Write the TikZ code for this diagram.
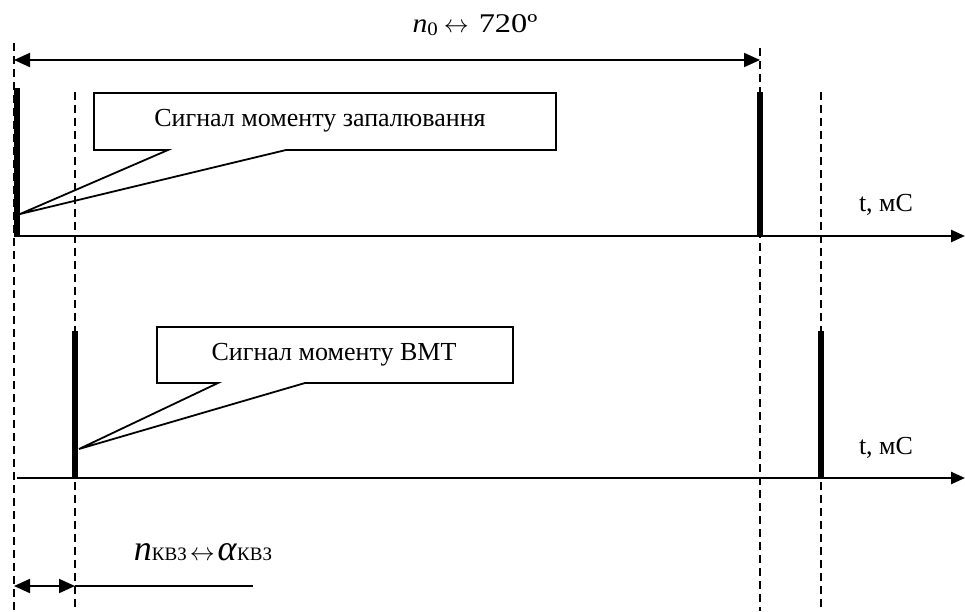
\documentclass[tikz,border=0pt]{standalone}
\usepackage{fontspec}
\setmainfont{Liberation Serif}
\usetikzlibrary{arrows.meta}
\begin{document}
\begin{tikzpicture}[x=1pt,y=-1pt,
  guide/.style={line width=1.5pt, dash pattern=on 8pt off 5pt},
  axisline/.style={line width=2.4pt, -{Triangle[length=14pt,width=12pt]}},
  dimline/.style={line width=2pt, {Triangle[length=16pt,width=14pt]}-{Triangle[length=16pt,width=14pt]}},
  pulse/.style={line width=6pt},
  callout/.style={line width=1.8pt, line join=miter},
  lbl/.style={font=\fontsize{26}{30}\selectfont, inner sep=0pt}]
\useasboundingbox (0,0) rectangle (965,611);
% coordinates
\coordinate (gA) at (14,43);  \coordinate (gAb) at (14,611);
\coordinate (gB) at (75,92);  \coordinate (gBb) at (75,611);
\coordinate (gC) at (760,48); \coordinate (gCb) at (760,611);
\coordinate (gD) at (821,92); \coordinate (gDb) at (821,611);
% guides
\draw[guide] (gA) -- (gAb);
\draw[guide] (gB) -- (gBb);
\draw[guide] (gC) -- (gCb);
\draw[guide] (gD) -- (gDb);
% top dimension
\coordinate (dL) at (14,60); \coordinate (dR) at (760,60);
\draw[dimline] (dL) -- (dR);
\node[lbl, font=\fontsize{27}{30}\selectfont] (n0) at (475,25) {\scalebox{1.1}[1]{\textit{n}\raisebox{-3pt}{\fontsize{19}{20}\selectfont 0}}\hspace{6pt}$\leftrightarrow$\hspace{10pt}\scalebox{1.2}[1]{720º}};
% axes
\coordinate (a1s) at (14,236); \coordinate (a1e) at (965,236);
\coordinate (a2s) at (17,478); \coordinate (a2e) at (965,478);
\draw[axisline] (a1s) -- (a1e);
\draw[axisline] (a2s) -- (a2e);
\node[lbl] (t1) at (886,205) {t, мС};
\node[lbl] (t2) at (886,448) {t, мС};
% pulses
\coordinate (p1t) at (16.5,88);  \coordinate (p1b) at (16.5,237);
\coordinate (p2t) at (760,92);   \coordinate (p2b) at (760,237);
\coordinate (p3t) at (75,331);   \coordinate (p3b) at (75,479);
\coordinate (p4t) at (821,331);  \coordinate (p4b) at (821,479);
\draw[pulse] (p1t) -- (p1b);
\draw[pulse] (p2t) -- (p2b);
\draw[pulse] (p3t) -- (p3b);
\draw[pulse] (p4t) -- (p4b);
% callout 1
\coordinate (k1) at (20,214);
\draw[callout] (94,93) -- (556,93) -- (556,150) -- (286,150) -- (k1) -- (168,150) -- (94,150) -- cycle;
\node[lbl] (c1) at (320,121) {Сигнал моменту запалювання};
% callout 2
\coordinate (k2) at (79,449);
\draw[callout] (157,327) -- (513,327) -- (513,383) -- (305,383) -- (k2) -- (218,383) -- (157,383) -- cycle;
\node[lbl] (c2) at (334,355) {Сигнал моменту ВМТ};
% bottom dimension
\coordinate (bL) at (14,586); \coordinate (bM) at (75,586); \coordinate (bR) at (253,586);
\draw[dimline] (bL) -- (bM);
\draw[line width=2pt] (bM) -- (bR);
\node[inner sep=0pt] (nk) at (203,552) {\fontsize{36}{40}\selectfont\textit{n}\fontsize{19}{22}\selectfont КВЗ\hspace{3pt}{\fontsize{24}{26}\selectfont$\leftrightarrow$}\hspace{3pt}\fontsize{36}{40}\selectfont\textit{α}\fontsize{19}{22}\selectfont КВЗ};
\end{tikzpicture}
\end{document}
